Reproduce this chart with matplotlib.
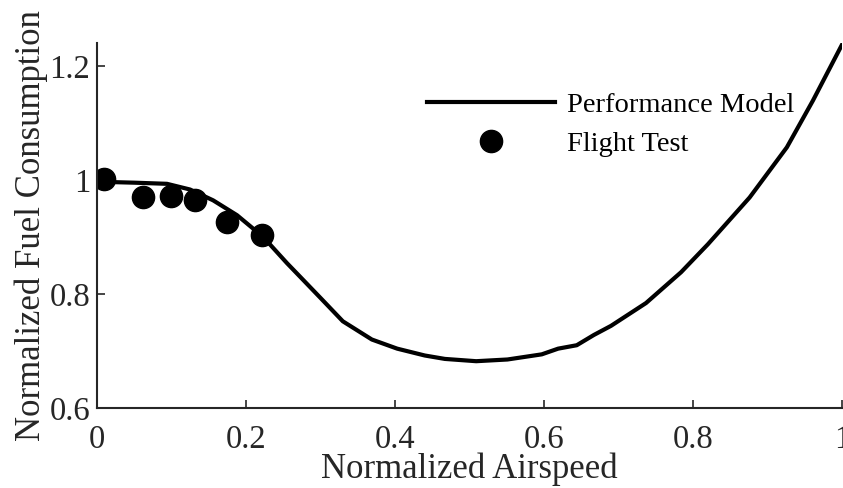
import matplotlib
matplotlib.use("Agg")
import matplotlib.pyplot as plt
from matplotlib.ticker import FuncFormatter

plt.rcParams["font.family"] = ["Liberation Serif", "DejaVu Serif"]

# performance model curve
model_x = [0.01, 0.021, 0.05, 0.094, 0.125, 0.156, 0.188, 0.223, 0.255, 0.272,
           0.300, 0.330, 0.369, 0.403, 0.440, 0.467, 0.509, 0.551, 0.597, 0.619,
           0.644, 0.667, 0.690, 0.737, 0.784, 0.820, 0.876, 0.926, 0.961, 1.0]
model_y = [1.000, 0.996, 0.995, 0.993, 0.983, 0.964, 0.938, 0.900, 0.854, 0.831,
           0.793, 0.752, 0.720, 0.704, 0.692, 0.686, 0.682, 0.685, 0.694, 0.704,
           0.710, 0.728, 0.744, 0.784, 0.838, 0.887, 0.969, 1.057, 1.139, 1.237]

# flight test points
test_x = [0.009, 0.062, 0.099, 0.132, 0.174, 0.222]
test_y = [1.002, 0.970, 0.971, 0.964, 0.926, 0.903]

xticks = [0, 0.2, 0.4, 0.6, 0.8, 1.0]
yticks = [0.6, 0.8, 1.0, 1.2]

fig = plt.figure(figsize=(8.43, 4.88), dpi=100)
ax = fig.add_axes([0.115, 0.164, 0.8838, 0.748])

ax.plot(model_x, model_y, color="black", lw=3, label="Performance Model")
ax.plot(test_x, test_y, "o", color="black", ms=16, label="Flight Test")

ax.set_xlim(0, 1)
ax.set_ylim(0.6, 1.24)
ax.set_xticks(xticks)
ax.set_yticks(yticks)
ax.xaxis.set_major_formatter(FuncFormatter(lambda v, p: f"{v:g}"))
ax.yaxis.set_major_formatter(FuncFormatter(lambda v, p: f"{v:g}"))

for side in ["top", "right"]:
    ax.spines[side].set_visible(False)
for side in ["left", "bottom"]:
    ax.spines[side].set_color("#262626")
    ax.spines[side].set_linewidth(1.5)
ax.tick_params(direction="in", length=6, width=1.2, colors="#262626",
               labelsize=23.5)
ax.tick_params(axis="x", pad=12)
ax.tick_params(axis="y", pad=5)

ax.set_xlabel("Normalized Airspeed", fontsize=25, color="#262626", labelpad=-2)
ax.set_ylabel("Normalized Fuel Consumption", fontsize=25, color="#262626", labelpad=1)

ax.legend(loc="upper left", bbox_to_anchor=(0.443, 0.866), frameon=False,
          fontsize=20.5, handlelength=4.5, handletextpad=0.4, labelspacing=0.45,
          borderaxespad=0, borderpad=0)

fig.savefig("out.png", dpi=100)
